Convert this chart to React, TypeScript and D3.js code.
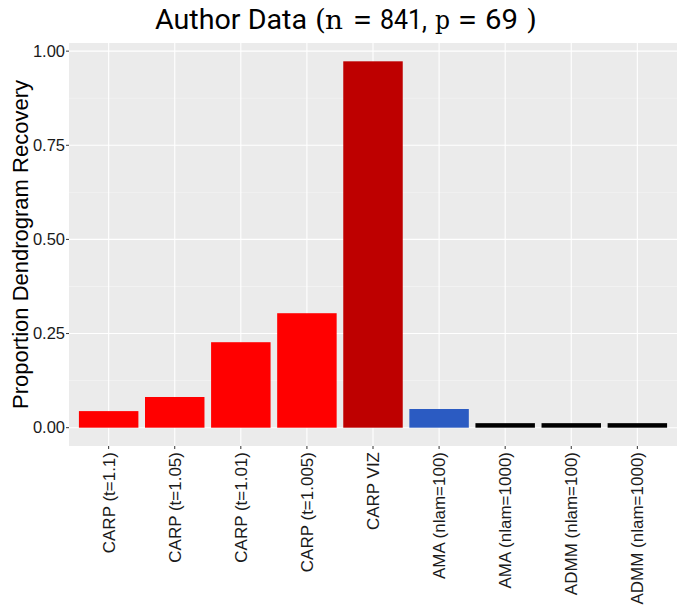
import React from "react";
import * as d3 from "d3";

// Methods compared on dendrogram recovery
const methods = [
  "CARP (t=1.1)",
  "CARP (t=1.05)",
  "CARP (t=1.01)",
  "CARP (t=1.005)",
  "CARP VIZ",
  "AMA (nlam=100)",
  "AMA (nlam=1000)",
  "ADMM (nlam=100)",
  "ADMM (nlam=1000)",
];

// Proportion of dendrogram recovered by each method
const recovery = [0.044, 0.0815, 0.227, 0.304, 0.973, 0.0496, 0.012, 0.012, 0.012];

// Fill colour per method
const fills = ["#FF0000", "#FF0000", "#FF0000", "#FF0000", "#BE0000", "#2B5BC2", "#000000", "#000000", "#000000"];

const yTicks = [0, 0.25, 0.5, 0.75, 1];
const yMinor = [0.125, 0.375, 0.625, 0.875];

const W = 677;
const H = 610;
const panel = { left: 69, right: 677, top: 43, bottom: 446 };

export default function App() {
  const maxV = d3.max(recovery) as number;
  const pad = maxV * 0.05;
  const y = d3
    .scaleLinear()
    .domain([-pad, maxV + pad])
    .range([panel.bottom, panel.top]);
  const x = d3
    .scaleBand<string>()
    .domain(methods)
    .range([panel.left, panel.right])
    .paddingInner(0.1)
    .paddingOuter(0.15);
  const center = (m: string) => (x(m) as number) + x.bandwidth() / 2;
  const tickFont = "'Liberation Sans', Arial, Helvetica, sans-serif";
  const sansTitle = "Roboto, 'DejaVu Sans', sans-serif";
  const serifTitle = "'DejaVu Serif', 'Liberation Serif', serif";

  return (
    <svg
      width={W}
      height={H}
      style={{ position: "absolute", left: 0, top: 0, background: "#fff" }}
    >
      <rect
        x={panel.left}
        y={panel.top}
        width={panel.right - panel.left}
        height={panel.bottom - panel.top}
        fill="#EBEBEB"
      />
      {yMinor.map((t) => (
        <line
          key={"mi" + t}
          x1={panel.left}
          x2={panel.right}
          y1={y(t)}
          y2={y(t)}
          stroke="#F5F5F5"
          strokeWidth={0.6}
        />
      ))}
      {yTicks.map((t) => (
        <line
          key={"ma" + t}
          x1={panel.left}
          x2={panel.right}
          y1={y(t)}
          y2={y(t)}
          stroke="#FFFFFF"
          strokeWidth={1.1}
        />
      ))}
      {methods.map((m) => (
        <line
          key={"gx" + m}
          x1={center(m)}
          x2={center(m)}
          y1={panel.top}
          y2={panel.bottom}
          stroke="#FFFFFF"
          strokeWidth={1.1}
        />
      ))}
      {methods.map((m, i) => (
        <rect
          key={"b" + m}
          x={x(m)}
          width={x.bandwidth()}
          y={y(recovery[i])}
          height={y(0) - y(recovery[i])}
          fill={fills[i]}
        />
      ))}
      {/* y axis */}
      {yTicks.map((t) => (
        <g key={"yt" + t}>
          <line x1={panel.left - 3} x2={panel.left} y1={y(t)} y2={y(t)} stroke="#333" strokeWidth={1} />
          <text
            x={panel.left - 4}
            y={y(t)}
            dy="0.35em"
            textAnchor="end"
            fontFamily={tickFont}
            fontSize={16.5}
            fill="#1A1A1A"
          >
            {d3.format(".2f")(t)}
          </text>
        </g>
      ))}
      {/* x axis */}
      {methods.map((m) => (
        <g key={"xt" + m}>
          <line x1={center(m)} x2={center(m)} y1={panel.bottom} y2={panel.bottom + 3} stroke="#333" strokeWidth={1} />
          <text
            transform={`translate(${center(m)},${panel.bottom + 6}) rotate(-90)`}
            dy="0.35em"
            textAnchor="end"
            fontFamily={tickFont}
            fontSize={17}
            fill="#1A1A1A"
          >
            {m}
          </text>
        </g>
      ))}
      <text
        transform={`translate(28,${(panel.top + panel.bottom) / 2}) rotate(-90)`}
        textAnchor="middle"
        fontFamily={tickFont}
        fontSize={22}
        fill="#000"
      >
        Proportion Dendrogram Recovery
      </text>
      {/* title */}
      <text y={29} fontSize={28} fill="#000">
        <tspan x={155} fontFamily={sansTitle} textLength={152} lengthAdjust="spacingAndGlyphs">Author Data</tspan>
        <tspan x={315} fontFamily={serifTitle}>(</tspan>
        <tspan x={325} fontFamily={serifTitle} fontSize={26} textLength={18} lengthAdjust="spacingAndGlyphs">n</tspan>
        <tspan x={353} fontFamily={serifTitle} textLength={19} lengthAdjust="spacingAndGlyphs">=</tspan>
        <tspan x={380} fontFamily={sansTitle} textLength={47} lengthAdjust="spacingAndGlyphs">841,</tspan>
        <tspan x={435} fontFamily={serifTitle} fontSize={26} textLength={15} lengthAdjust="spacingAndGlyphs">p</tspan>
        <tspan x={458} fontFamily={serifTitle} textLength={19} lengthAdjust="spacingAndGlyphs">=</tspan>
        <tspan x={485} fontFamily={sansTitle} textLength={33} lengthAdjust="spacingAndGlyphs">69</tspan>
        <tspan x={526} fontFamily={serifTitle}>)</tspan>
      </text>
    </svg>
  );
}
